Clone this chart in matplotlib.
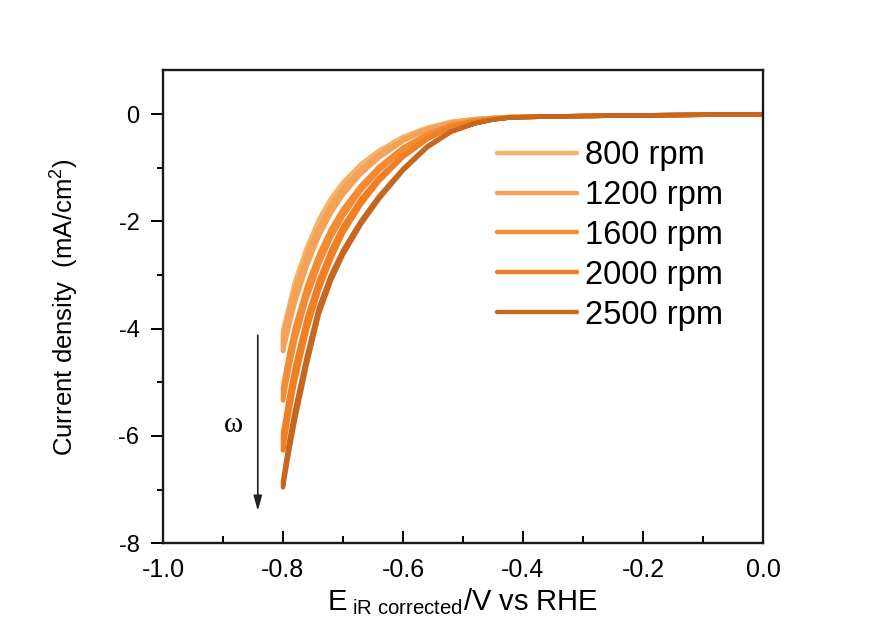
import matplotlib
matplotlib.use("Agg")
import matplotlib.pyplot as plt
import numpy as np
from matplotlib.ticker import MultipleLocator

plt.rcParams['font.family'] = ['Liberation Sans', 'DejaVu Sans']
plt.rcParams['mathtext.fontset'] = 'custom'
plt.rcParams['mathtext.rm'] = 'Liberation Sans'
plt.rcParams['mathtext.it'] = 'Liberation Sans:italic'

# potential grid (V vs RHE)
potential = [-0.80, -0.79, -0.78, -0.76, -0.74, -0.72, -0.70, -0.67, -0.64,
             -0.60, -0.56, -0.52, -0.48, -0.45, -0.42, -0.35, -0.20, 0.00]

labels = ['800 rpm', '1200 rpm', '1600 rpm', '2000 rpm', '2500 rpm']
colors = ['#f5b46c', '#f3a257', '#f28b33', '#ef7f22', '#c6661f']

# cathodic sweep (0 -> -0.8 V), current density in mA/cm2
fwd_800 = [-4.37, -3.85, -3.38, -2.70, -2.15, -1.73, -1.40, -1.03, -0.75,
           -0.46, -0.27, -0.15, -0.09, -0.07, -0.05, -0.04, -0.02, 0.00]
fwd_1200 = [-4.42, -3.95, -3.50, -2.82, -2.27, -1.84, -1.50, -1.11, -0.81,
            -0.50, -0.29, -0.16, -0.10, -0.07, -0.05, -0.04, -0.02, 0.00]
fwd_1600 = [-5.34, -4.75, -4.22, -3.42, -2.80, -2.30, -1.90, -1.42, -1.05,
            -0.66, -0.39, -0.21, -0.12, -0.08, -0.06, -0.04, -0.02, 0.00]
fwd_2000 = [-6.27, -5.58, -4.98, -4.02, -3.28, -2.70, -2.22, -1.68, -1.25,
            -0.80, -0.47, -0.25, -0.14, -0.09, -0.06, -0.04, -0.02, 0.00]
fwd_2500 = [-6.96, -6.30, -5.70, -4.65, -3.72, -3.10, -2.62, -2.05, -1.58,
            -1.05, -0.62, -0.33, -0.17, -0.10, -0.06, -0.04, -0.02, 0.00]

# return sweep (-0.8 -> 0 V)
rev_800 = [-4.03, -3.58, -3.12, -2.48, -1.96, -1.57, -1.27, -0.93, -0.68,
           -0.42, -0.25, -0.14, -0.09, -0.07, -0.05, -0.04, -0.02, 0.00]
rev_1200 = [-4.12, -3.68, -3.26, -2.62, -2.10, -1.70, -1.38, -1.02, -0.75,
            -0.47, -0.28, -0.16, -0.10, -0.07, -0.05, -0.04, -0.02, 0.00]
rev_1600 = [-5.10, -4.48, -3.97, -3.20, -2.61, -2.14, -1.77, -1.33, -0.98,
            -0.62, -0.37, -0.20, -0.12, -0.08, -0.06, -0.04, -0.02, 0.00]
rev_2000 = [-5.95, -5.28, -4.70, -3.79, -3.09, -2.54, -2.09, -1.58, -1.18,
            -0.76, -0.45, -0.24, -0.14, -0.09, -0.06, -0.04, -0.02, 0.00]
rev_2500 = [-6.85, -6.12, -5.52, -4.50, -3.60, -3.00, -2.54, -1.99, -1.53,
            -1.02, -0.60, -0.32, -0.17, -0.10, -0.06, -0.04, -0.02, 0.00]

forward = [fwd_800, fwd_1200, fwd_1600, fwd_2000, fwd_2500]
reverse = [rev_800, rev_1200, rev_1600, rev_2000, rev_2500]

fig = plt.figure(figsize = (8.73, 6.39), dpi = 100)
ax = fig.add_axes([0.1867, 0.150, 0.6873, 0.740])

E = np.array(potential)
for i in range(5):
    x = np.r_[E[::-1], E]
    y = np.r_[np.array(forward[i])[::-1], np.array(reverse[i])]
    ax.plot(x, y, color = colors[i], lw = 3.2, label = labels[i],
            solid_capstyle = 'round', solid_joinstyle = 'round')

ax.set_xlim(-1.0, 0.0)
ax.set_ylim(-8, 0.82)
ax.xaxis.set_minor_locator(MultipleLocator(0.1))
ax.yaxis.set_minor_locator(MultipleLocator(1))
ax.set_xticks([-1.0, -0.8, -0.6, -0.4, -0.2, 0.0])
ax.set_xticklabels(['-1.0', '-0.8', '-0.6', '-0.4', '-0.2', '0.0'])
ax.set_yticks([-8, -6, -4, -2, 0])
ax.set_yticklabels(['-8', '-6', '-4', '-2', '0'])

ax.tick_params(axis = 'x', which = 'major', direction = 'in', length = 9, width = 1.4,
               labelsize = 18, pad = 11)
ax.tick_params(axis = 'x', which = 'minor', direction = 'in', length = 5, width = 1.4)
ax.tick_params(axis = 'y', which = 'major', direction = 'out', length = 9, width = 1.4,
               labelsize = 17, pad = 8)
ax.tick_params(axis = 'y', which = 'minor', direction = 'out', length = 4, width = 1.4)
for s in ax.spines.values():
    s.set_linewidth(1.7)
    s.set_color('#1a1a1a')

ax.set_xlabel(r'E$_{\rm\ iR\ corrected}$/V vs RHE', fontsize = 21, labelpad = 3)
ax.set_ylabel('Current density  (mA/cm$^2$)', fontsize = 18.5, labelpad = 27)

# rotation speed arrow
ax.annotate('', xy = (-0.842, -7.45), xytext = (-0.842, -4.07),
            arrowprops = dict(arrowstyle = '-|>,head_width=0.25,head_length=0.9',
                              color = '#222222', lw = 1.2))
ax.text(-0.883, -5.8, 'ω', fontsize = 21, ha = 'center', va = 'center',
        family = ['Liberation Serif', 'DejaVu Serif'])

ax.legend(loc = 'upper left', bbox_to_anchor = (0.557, 0.852), frameon = False,
          fontsize = 23.5, handlelength = 2.45, handletextpad = 0.25,
          labelspacing = 0.27, borderpad = 0, borderaxespad = 0)

fig.savefig('out.png', dpi = 100)
